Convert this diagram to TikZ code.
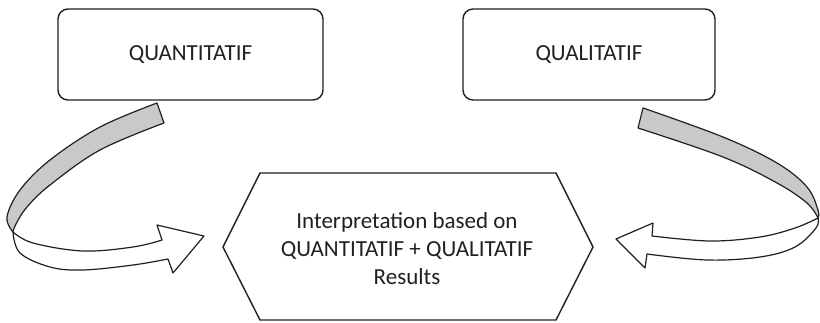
\documentclass[tikz,border=0pt]{standalone}
\usepackage{fontspec}
\setmainfont{Carlito}
\definecolor{band}{RGB}{200,201,203}
\definecolor{ink}{RGB}{35,31,32}
\begin{document}
\begin{tikzpicture}[x=1pt,y=-1pt,
  box/.style={draw=ink, line width=1.4pt, rounded corners=10pt, text=ink,
    font=\fontsize{23}{28}\selectfont, minimum height=91pt},
  ribbon/.style={draw=ink, line width=1.2pt, line join=round},
  txt/.style={text=ink, font=\fontsize{23}{28}\selectfont, align=center}]
\useasboundingbox (0,0) rectangle (820,322);
\node[box, minimum width=265pt] (qn) at (190.5,54.5) {QUANTITATIF};
\node[box, minimum width=252pt] (ql) at (589,54.5) {QUALITATIF};
% hexagon
\draw[ink, line width=1.4pt, line join=miter] (260,173) -- (556,173) -- (593,247) -- (556,320) -- (260,320) -- (223,247) -- cycle;
\node[txt] (res) at (407,249) {Interpretation based on\\QUANTITATIF + QUALITATIF\\Results};
% left ribbon arrow
\filldraw[ribbon, fill=band]
  plot[smooth, tension=0.6] coordinates {(157,103) (100,127) (50,160) (20,190) (7,217) (13,232)}
  -- plot[smooth, tension=0.6] coordinates {(13,232) (16,224) (27,207) (50,185) (100,150) (164,123)}
  -- cycle;
\filldraw[ribbon, fill=white]
  plot[smooth, tension=0.6] coordinates {(13,232) (33,243) (83,251) (133,247) (162,240)}
  -- (157,225) -- (204,236) -- (173,273) -- (168,259)
  -- plot[smooth, tension=0.6] coordinates {(168,259) (133,265) (83,270) (50,267) (20,253) (13,232)}
  -- cycle;
% right ribbon arrow
\filldraw[ribbon, fill=band]
  plot[smooth, tension=0.6] coordinates {(643,108) (723,137) (777,163) (807,187) (818,210) (818,218)}
  -- plot[smooth, tension=0.6] coordinates {(818,218) (807,203) (777,183) (723,157) (638,128)}
  -- cycle;
\filldraw[ribbon, fill=white]
  plot[smooth, tension=0.6] coordinates {(818,218) (795,228) (760,237) (710,241) (652,236)}
  -- (653,223) -- (616,239) -- (645,268) -- (647,254)
  -- plot[smooth, tension=0.6] coordinates {(647,254) (707,260) (760,257) (795,247) (816,228) (818,218)}
  -- cycle;
\end{tikzpicture}
\end{document}
